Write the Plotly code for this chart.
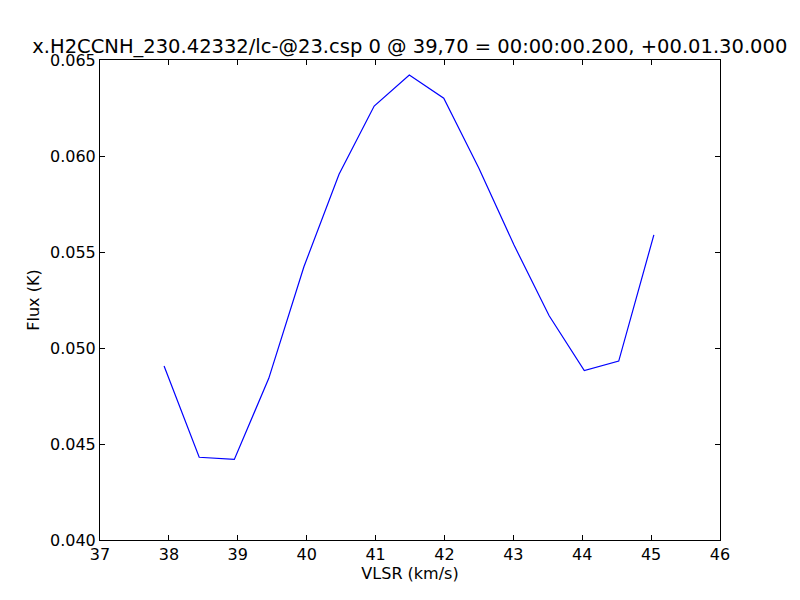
import plotly.graph_objects as go

vlsr = [37.93, 38.44, 38.95, 39.45, 39.96, 40.47, 40.98, 41.49, 41.99, 42.50,
        43.01, 43.52, 44.03, 44.53, 45.04]
flux = [0.04906, 0.04431, 0.04420, 0.04842, 0.05423, 0.05905, 0.06260, 0.06422,
        0.06301, 0.05936, 0.05536, 0.05168, 0.04882, 0.04932, 0.05589]

title = "x.H2CCNH_230.42332/lc-@23.csp 0 @ 39,70 = 00:00:00.200, +00.01.30.000"
x_ticks = [37, 38, 39, 40, 41, 42, 43, 44, 45, 46]
y_ticks = [0.040, 0.045, 0.050, 0.055, 0.060, 0.065]

fig = go.Figure()
fig.add_trace(go.Scatter(x=vlsr, y=flux, mode="lines",
                         line=dict(color="#0000ff", width=1.2), showlegend=False))

axis_common = dict(showgrid=False, zeroline=False, showline=True, linecolor="black",
                   linewidth=1, mirror="ticks", ticks="inside", ticklen=5,
                   tickcolor="black", tickfont=dict(size=16, color="black"),
                   automargin=False)

fig.update_layout(
    width=784, height=584,
    margin=dict(l=92, r=72, t=52, b=52),
    paper_bgcolor="white", plot_bgcolor="white",
    font=dict(family="DejaVu Sans", color="black"),
    title=dict(text=title, x=0.5125, xanchor="center", y=0.935, yanchor="middle",
               font=dict(size=19.5, color="black")),
    xaxis=dict(range=[37, 46], tickvals=x_ticks, ticktext=[str(v) for v in x_ticks],
               title=dict(text="VLSR (km/s)", font=dict(size=16), standoff=4),
               **axis_common),
    yaxis=dict(range=[0.040, 0.065], tickvals=y_ticks, tickformat=".3f",
               title=dict(text="Flux (K)", font=dict(size=16), standoff=6),
               **axis_common),
)

fig.write_html("out.html")
